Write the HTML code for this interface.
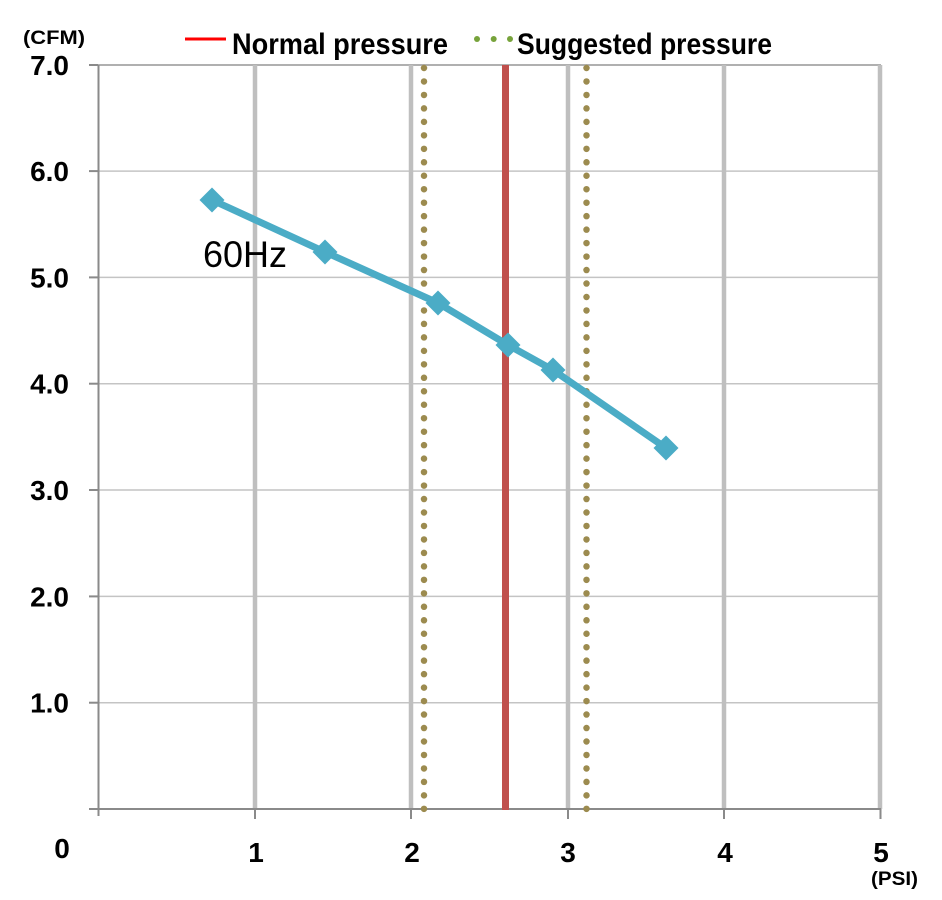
<!DOCTYPE html>
<html>
<head>
<meta charset="utf-8">
<style>
html,body{margin:0;padding:0;background:#fff;}
svg{display:block;}
text{font-family:"Liberation Sans",Arial,sans-serif;}
</style>
</head>
<body>
<svg width="942" height="900" viewBox="0 0 942 900" xmlns="http://www.w3.org/2000/svg">
  <rect width="942" height="900" fill="#fff"/>
  <!-- horizontal gridlines -->
  <g stroke="#c4c4c4" stroke-width="1.5">
    <line x1="98" y1="702.7" x2="881" y2="702.7"/>
    <line x1="98" y1="596.4" x2="881" y2="596.4"/>
    <line x1="98" y1="490" x2="881" y2="490"/>
    <line x1="98" y1="383.7" x2="881" y2="383.7"/>
    <line x1="98" y1="277.4" x2="881" y2="277.4"/>
    <line x1="98" y1="171.1" x2="881" y2="171.1"/>
  </g>
  <line x1="89" y1="65" x2="881" y2="65" stroke="#b0b0b0" stroke-width="2"/>
  <!-- vertical gridlines -->
  <g stroke="#bfbfbf" stroke-width="4.5">
    <line x1="255" y1="65" x2="255" y2="809"/>
    <line x1="411" y1="65" x2="411" y2="809"/>
    <line x1="568" y1="65" x2="568" y2="809"/>
    <line x1="724" y1="65" x2="724" y2="809"/>
    <line x1="880" y1="65" x2="880" y2="809"/>
  </g>
  <!-- axes -->
  <g stroke="#8a8a8a" stroke-width="2">
    <line x1="98.5" y1="65" x2="98.5" y2="816"/>
    <line x1="89" y1="809" x2="881" y2="809"/>
    <line x1="89" y1="65" x2="98" y2="65"/>
    <line x1="89" y1="171.1" x2="98" y2="171.1"/>
    <line x1="89" y1="277.4" x2="98" y2="277.4"/>
    <line x1="89" y1="383.7" x2="98" y2="383.7"/>
    <line x1="89" y1="490" x2="98" y2="490"/>
    <line x1="89" y1="596.4" x2="98" y2="596.4"/>
    <line x1="89" y1="702.7" x2="98" y2="702.7"/>
    <line x1="255" y1="809" x2="255" y2="819"/>
    <line x1="411" y1="809" x2="411" y2="819"/>
    <line x1="568" y1="809" x2="568" y2="819"/>
    <line x1="724" y1="809" x2="724" y2="819"/>
    <line x1="880.5" y1="809" x2="880.5" y2="819"/>
  </g>
  <!-- suggested pressure dotted lines -->
  <g stroke="#9c8b4f" stroke-width="6.5" stroke-linecap="round" stroke-dasharray="0 13.47">
    <line x1="424" y1="68" x2="424" y2="810"/>
    <line x1="586.5" y1="68" x2="586.5" y2="810"/>
  </g>
  <!-- normal pressure -->
  <line x1="505.5" y1="65" x2="505.5" y2="810" stroke="#c0504d" stroke-width="7"/>
  <!-- series -->
  <polyline points="212,200 325,252 438,303 508,345 553,370 666,448" fill="none" stroke="#4bacc6" stroke-width="7" stroke-linejoin="round"/>
  <g fill="#4bacc6">
    <polygon points="212,187.5 224.5,200 212,212.5 199.5,200"/>
    <polygon points="325,239.5 337.5,252 325,264.5 312.5,252"/>
    <polygon points="438,290.5 450.5,303 438,315.5 425.5,303"/>
    <polygon points="508,332.5 520.5,345 508,357.5 495.5,345"/>
    <polygon points="553,357.5 565.5,370 553,382.5 540.5,370"/>
    <polygon points="666,435.5 678.5,448 666,460.5 653.5,448"/>
  </g>
  <text x="203" y="267" font-size="37" fill="#000" textLength="84" lengthAdjust="spacingAndGlyphs">60Hz</text>
  <!-- y labels -->
  <g font-size="28" font-weight="bold" fill="#000" text-anchor="end">
    <text x="69" y="75">7.0</text>
    <text x="69" y="181">6.0</text>
    <text x="69" y="287.5">5.0</text>
    <text x="69" y="393.5">4.0</text>
    <text x="69" y="500">3.0</text>
    <text x="69" y="606.5">2.0</text>
    <text x="69" y="712.5">1.0</text>
  </g>
  <!-- x labels -->
  <g font-size="28" font-weight="bold" fill="#000" text-anchor="middle">
    <text x="62" y="858">0</text>
    <text x="256" y="862">1</text>
    <text x="412" y="862">2</text>
    <text x="568" y="862">3</text>
    <text x="725" y="862">4</text>
    <text x="881" y="862">5</text>
  </g>
  <text x="23" y="44" font-size="19" font-weight="bold" fill="#000" textLength="62" lengthAdjust="spacingAndGlyphs">(CFM)</text>
  <text x="871" y="885" font-size="19" font-weight="bold" fill="#000" textLength="47" lengthAdjust="spacingAndGlyphs">(PSI)</text>
  <!-- legend -->
  <line x1="185" y1="39" x2="226" y2="39" stroke="#ff0000" stroke-width="3"/>
  <text x="232" y="54" font-size="29.5" font-weight="bold" fill="#000" textLength="216" lengthAdjust="spacingAndGlyphs">Normal pressure</text>
  <g fill="#77a33b">
    <circle cx="477" cy="39" r="3"/>
    <circle cx="493.7" cy="39" r="3"/>
    <circle cx="510" cy="39" r="3"/>
  </g>
  <text x="517" y="54" font-size="29.5" font-weight="bold" fill="#000" textLength="255" lengthAdjust="spacingAndGlyphs">Suggested pressure</text>
</svg>
</body>
</html>
